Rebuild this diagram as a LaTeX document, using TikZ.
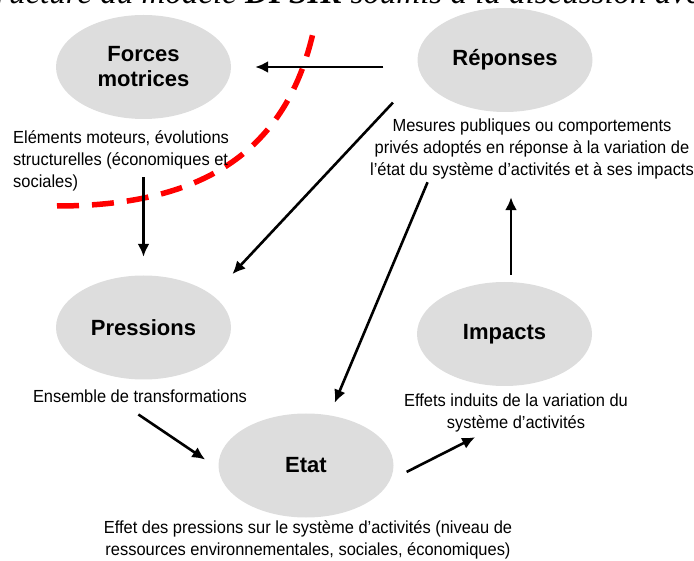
\documentclass[tikz,border=0pt]{standalone}
\usepackage{fontspec}
\setmainfont{Liberation Sans}
\newfontfamily\descfont{Liberation Sans}[FakeStretch=0.94]
\newfontfamily\titrefont{Liberation Serif}
\usetikzlibrary{arrows.meta,positioning,shapes.geometric}
\definecolor{grisbulle}{RGB}{221,221,221}
\tikzstyle{etape}=[ellipse,fill=grisbulle,minimum width=175,minimum height=104,inner sep=0,align=center,font=\fontsize{22}{25}\selectfont\bfseries]
\tikzstyle{legende}=[inner sep=0,align=center,font=\descfont\fontsize{17.5}{22}\selectfont]
\tikzstyle{fleche}=[->,line width=2.6pt]

\begin{document}
\begin{tikzpicture}[x=1pt,y=-1pt,>={Latex[length=13pt,width=12pt]}]
	\useasboundingbox (0,0) rectangle (694,561);
	% titre coupe en haut
	\node[anchor=base west,inner sep=0,font=\titrefont\itshape\fontsize{33}{33}\selectfont] (titre) at (-4,3.5) {ructure du mod\`ele \textbf{DPSIR} soumis \`a la discussion ave};
	% limite en pointilles rouges
	\draw[red,line width=5.5pt,dash pattern=on 22pt off 13pt] (57,206) .. controls (207,206) and (286.5,148) .. (313,33);

	\node[etape] (fm)	at (143.5,67)	{Forces\\motrices};
	\node[etape] (rep)	at (505,60)		{Réponses};
	\node[etape] (pr)	at (143.5,327.5)	{Pressions};
	\node[etape] (im)	at (504.5,334)	{Impacts};
	\node[etape] (et)	at (306,465.5)	{Etat};

	\node[legende,align=left,anchor=north west] (fmtext) at (13,130.5) {Eléments moteurs, évolutions\\structurelles (économiques et\\sociales)};
	\node[legende,anchor=north] (reptext) at (532,118.5) {Mesures publiques ou comportements\\privés adoptés en réponse à la variation de\\l’état du système d’activités et à ses impacts};
	\node[legende,anchor=north] (prtext) at (140,389.5) {Ensemble de transformations};
	\node[legende,anchor=north] (imtext) at (516,393.5) {Effets induits de la variation du\\système d’activités};
	\node[legende,anchor=north] (ettext) at (308,520.5) {Effet des pressions sur le système d’activités (niveau de\\ressources environnementales, sociales, économiques)};

	\draw[fleche,shorten <=34pt,shorten >=24pt] (rep.west |- fm.east) -- (fm.east);
	\draw[fleche,shorten <=40pt,shorten >=29pt] (rep.189) -- (pr.25);
	\draw[fleche,shorten <=84pt,shorten >=13.5pt] (rep.225) -- (et.65);
	\draw[fleche,shorten <=58pt,shorten >=18.5pt] (fm.south) -- (pr.north);
	\draw[fleche,shorten <=21pt,shorten >=16pt] ([xshift=-19pt]prtext.south) -- (et.182);
	\draw[fleche,shorten <=18.6pt,shorten >=11pt] (et.-10) -- ([xshift=-31pt]imtext.south);
	\draw[fleche,shorten <=7pt,shorten >=18pt] ([xshift=6.5pt]im.north) -- ([xshift=6.5pt]im.north |- reptext.south);
\end{tikzpicture}
\end{document}
